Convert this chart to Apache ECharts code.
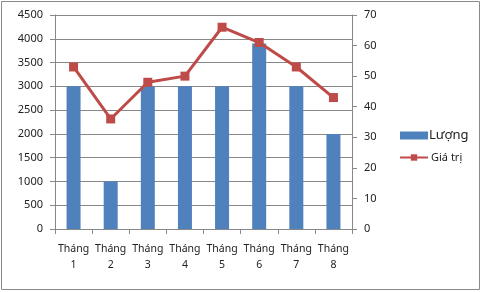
<!DOCTYPE html>
<html><head><meta charset="utf-8">
<script src="https://cdn.jsdelivr.net/npm/echarts@6/dist/echarts.min.js"></script>
<style>html,body{margin:0;padding:0;background:#fff}#c{width:482px;height:292px}</style>
</head><body><div id="c"></div>
<script>
const categories = ['Tháng\n1','Tháng\n2','Tháng\n3','Tháng\n4','Tháng\n5','Tháng\n6','Tháng\n7','Tháng\n8'];
const luong = [3000, 1000, 3000, 3000, 3000, 3900, 3000, 2000];
const giaTri = [53, 36, 48, 50, 66, 61, 53, 43];
const leftTicks = {min: 0, max: 4500, interval: 500};
const rightTicks = {min: 0, max: 70, interval: 10};

const chart = echarts.init(document.getElementById('c'));
const font = 'Noto Sans';
const axisLbl = {color: '#222', fontFamily: font, fontSize: 11};
chart.setOption({
  animation: false,
  textStyle: {fontFamily: font},
  graphic: [{type: 'rect', shape: {x: 1.5, y: 1.5, width: 478, height: 288}, style: {fill: 'none', stroke: '#8a8a8a', lineWidth: 1}, silent: true}],
  grid: {left: 55, right: 130, top: 15, bottom: 63},
  legend: {
    orient: 'vertical', left: 394, top: 124, itemGap: 10,
    itemWidth: 28, itemHeight: 8,
    data: [
      {name: 'Lượng', icon: 'rect', textStyle: {fontSize: 13, color: '#222', fontFamily: font, padding: [0, 0, 0, -4]}},
      {name: 'Giá trị', textStyle: {fontSize: 11, color: '#222', fontFamily: font, padding: [0, 0, 0, -2]}}
    ]
  },
  xAxis: {
    type: 'category', data: categories,
    axisLine: {lineStyle: {color: '#888'}},
    axisTick: {show: true, length: 5, lineStyle: {color: '#888'}},
    axisLabel: Object.assign({margin: 12, lineHeight: 16, interval: 0}, axisLbl, {fontSize: 10.5})
  },
  yAxis: [
    Object.assign({type: 'value', position: 'left',
      axisLine: {show: true, lineStyle: {color: '#888'}},
      axisTick: {show: true, length: 5, lineStyle: {color: '#888'}},
      splitLine: {show: true, lineStyle: {color: '#888'}},
      axisLabel: Object.assign({margin: 12, formatter: v => String(v)}, axisLbl)}, leftTicks),
    Object.assign({type: 'value', position: 'right',
      axisLine: {show: true, lineStyle: {color: '#888'}},
      axisTick: {show: true, length: 5, lineStyle: {color: '#888'}},
      splitLine: {show: false},
      axisLabel: Object.assign({margin: 12, formatter: v => String(v)}, axisLbl)}, rightTicks)
  ],
  series: [
    {name: 'Lượng', type: 'bar', data: luong, barWidth: 14, itemStyle: {color: '#4F81BD'}, yAxisIndex: 0},
    {name: 'Giá trị', type: 'line', data: giaTri, yAxisIndex: 1, symbol: 'rect', symbolSize: 9,
     lineStyle: {color: '#BE4B48', width: 3}, itemStyle: {color: '#BE4B48'}}
  ]
});
</script></body></html>
